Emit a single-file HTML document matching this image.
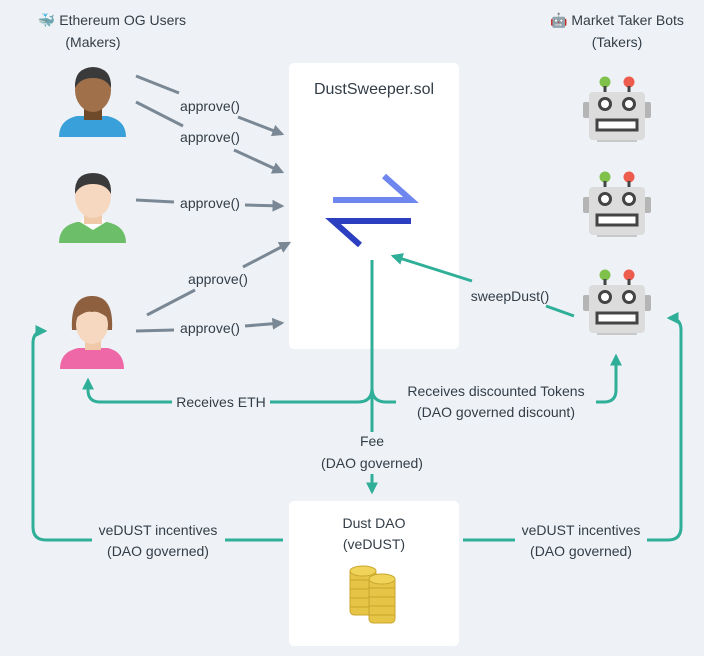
<!DOCTYPE html>
<html><head><style>
body{margin:0;background:#eef2f6;}
svg{display:block}
text{font-family:"Liberation Sans",sans-serif;font-size:14px;fill:#333d47}
</style></head><body>
<svg width="704" height="656" viewBox="0 0 704 656" xmlns="http://www.w3.org/2000/svg">
<defs>
<marker id="ag" viewBox="0 0 10 10" refX="8" refY="5" markerWidth="4" markerHeight="4" orient="auto"><path d="M0,0 L10,5 L0,10 Z" fill="#7a8794"/></marker>
<marker id="at" viewBox="0 0 10 10" refX="8" refY="5" markerWidth="4" markerHeight="4" orient="auto"><path d="M0,0 L10,5 L0,10 Z" fill="#2fae98"/></marker>
<g id="robot">
<circle cx="-12" cy="-28" r="5.5" fill="#7fc14b"/><circle cx="12" cy="-28" r="5.5" fill="#ee5c4e"/>
<rect x="-13.5" y="-24" width="3" height="7" fill="#444"/><rect x="10.5" y="-24" width="3" height="7" fill="#444"/>
<rect x="-34" y="-8" width="7" height="16" rx="2" fill="#b5b5b5"/><rect x="27" y="-8" width="7" height="16" rx="2" fill="#b5b5b5"/>
<rect x="-20" y="28" width="40" height="4" fill="#c8c8c8"/>
<rect x="-28" y="-18" width="56" height="48" rx="4" fill="#dcdcdc"/>
<circle cx="-12" cy="-6" r="5.5" fill="#fff" stroke="#444" stroke-width="3"/><circle cx="12" cy="-6" r="5.5" fill="#fff" stroke="#444" stroke-width="3"/>
<rect x="-20" y="10" width="40" height="10" fill="#fff" stroke="#444" stroke-width="3"/>
</g>
</defs>

<rect x="289" y="63" width="170" height="286" rx="5" fill="#fff"/>
<rect x="289" y="501" width="170" height="145" rx="5" fill="#fff"/>
<text x="374" y="94" text-anchor="middle" style="font-size:16px">DustSweeper.sol</text>
<text x="374" y="528" text-anchor="middle">Dust DAO</text>
<text x="374" y="549" text-anchor="middle">(veDUST)</text>

<path d="M333 200 H411 L384 176" fill="none" stroke="#6f86ee" stroke-width="6"/>
<path d="M411 221 H333 L360 245" fill="none" stroke="#2b3fc0" stroke-width="6"/>

<g fill="#e6c446" stroke="#c9a52c" stroke-width="1">
<rect x="350" y="569" width="26" height="46" rx="4"/>
<ellipse cx="363" cy="571" rx="13" ry="5" fill="#f0d45a"/>
<rect x="369" y="577" width="26" height="46" rx="4"/>
<ellipse cx="382" cy="579" rx="13" ry="5" fill="#f0d45a"/>
</g>
<g stroke="#c9a52c" stroke-width="1"><path d="M350 580H369M350 589H369M350 598H369M350 607H369M369 588H395M369 597H395M369 606H395M369 615H395"/></g>

<text x="112" y="25" text-anchor="middle">🐳 Ethereum OG Users</text>
<text x="93" y="47" text-anchor="middle">(Makers)</text>
<text x="617" y="25" text-anchor="middle">🤖 Market Taker Bots</text>
<text x="617" y="47" text-anchor="middle">(Takers)</text>

<g>
<path d="M59 137 Q59 120 77 116 L107 116 Q126 120 126 137 Z" fill="#3aa0da"/>
<rect x="84" y="108" width="18" height="12" fill="#6e4a2a"/>
<ellipse cx="93" cy="90" rx="18" ry="22" fill="#a0704a"/>
<path d="M75 88 Q74 68 93 67 Q112 68 111 88 Q106 78 93 78 Q80 78 75 88Z" fill="#3a3a3a"/>
</g>
<g>
<path d="M59 243 Q59 226 77 222 L107 222 Q126 226 126 243 Z" fill="#6cbf68"/>
<path d="M80 222 L93 230 L106 222 L102 218 H84Z" fill="#fff"/>
<rect x="84" y="212" width="18" height="12" fill="#f0c9a8"/>
<ellipse cx="93" cy="196" rx="18" ry="22" fill="#f6d7bf"/>
<path d="M75 194 Q74 173 93 173 Q112 173 111 194 Q106 184 93 184 Q80 184 75 194Z" fill="#3a3a3a"/>
</g>
<g>
<path d="M60 369 Q60 352 78 348 L108 348 Q124 352 124 369 Z" fill="#ee67a6"/>
<path d="M72 330 Q70 296 92 296 Q114 296 112 330 Z" fill="#8e6040"/>
<rect x="85" y="338" width="16" height="12" fill="#f0c9a8"/>
<ellipse cx="92" cy="325" rx="16" ry="19" fill="#f6d7bf"/>
<path d="M76 318 Q78 304 92 304 Q106 304 108 318 Q98 310 92 312 Q86 310 76 318Z" fill="#8e6040"/>
</g>

<use href="#robot" x="617" y="110"/>
<use href="#robot" x="617" y="205"/>
<use href="#robot" x="617" y="303"/>

<g stroke="#7a8794" stroke-width="3" fill="none">
<path d="M136 76 L179 93"/><path d="M238 117 L282 134" marker-end="url(#ag)"/>
<path d="M136 102 L183 126"/><path d="M234 150 L282 172" marker-end="url(#ag)"/>
<path d="M136 200 L174 202"/><path d="M245 205 L282 206" marker-end="url(#ag)"/>
<path d="M147 315 L195 290"/><path d="M243 267 L289 243" marker-end="url(#ag)"/>
<path d="M136 331 L174 330"/><path d="M245 326 L282 323" marker-end="url(#ag)"/>
</g>
<text x="210" y="111" text-anchor="middle">approve()</text>
<text x="210" y="142" text-anchor="middle">approve()</text>
<text x="210" y="208" text-anchor="middle">approve()</text>
<text x="218" y="284" text-anchor="middle">approve()</text>
<text x="210" y="333" text-anchor="middle">approve()</text>

<g stroke="#2fae98" stroke-width="3" fill="none">
<path d="M574 316 L546 306"/><path d="M472 281 L393 256" marker-end="url(#at)"/>
<path d="M372 260 V432"/>
<path d="M372 388 Q372 402 358 402 H270"/>
<path d="M172 402 H100 Q88 402 88 390 V380" marker-end="url(#at)"/>
<path d="M372 388 Q372 402 386 402 H396"/>
<path d="M596 402 H604 Q616 402 616 390 V356" marker-end="url(#at)"/>
<path d="M372 474 V492" marker-end="url(#at)"/>
<path d="M283 540 H225"/>
<path d="M92 540 H46 Q33 540 33 527 V343 Q33 331 45 331" marker-end="url(#at)"/>
<path d="M463 540 H515"/>
<path d="M647 540 H668 Q681 540 681 527 V330 Q681 318 669 318" marker-end="url(#at)"/>
</g>
<text x="510" y="301" text-anchor="middle">sweepDust()</text>
<text x="221" y="407" text-anchor="middle">Receives ETH</text>
<text x="496" y="396" text-anchor="middle">Receives discounted Tokens</text>
<text x="496" y="417" text-anchor="middle">(DAO governed discount)</text>
<text x="372" y="446" text-anchor="middle">Fee</text>
<text x="372" y="468" text-anchor="middle">(DAO governed)</text>
<text x="158" y="535" text-anchor="middle">veDUST incentives</text>
<text x="158" y="556" text-anchor="middle">(DAO governed)</text>
<text x="581" y="535" text-anchor="middle">veDUST incentives</text>
<text x="581" y="556" text-anchor="middle">(DAO governed)</text>
</svg>
</body></html>
